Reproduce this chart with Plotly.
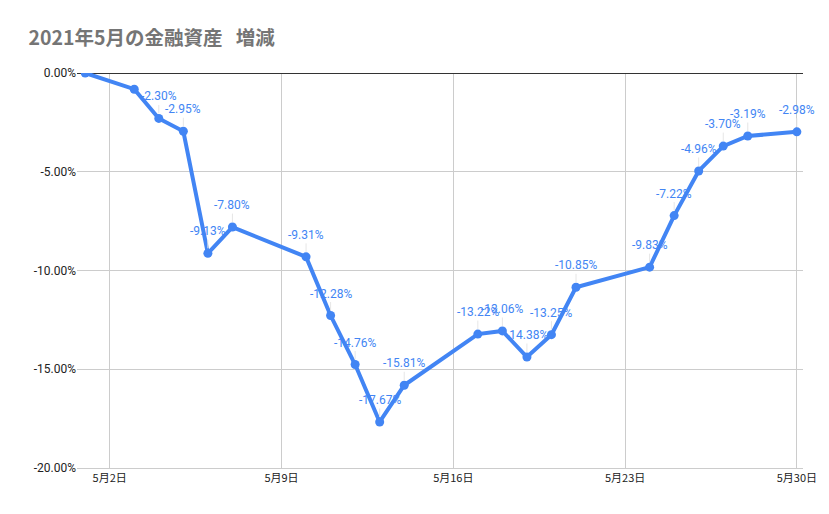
import plotly.graph_objects as go

# 2021年5月 金融資産 増減 (%)
dates = [
    "2021-05-01", "2021-05-03", "2021-05-04", "2021-05-05", "2021-05-06",
    "2021-05-07", "2021-05-10", "2021-05-11", "2021-05-12", "2021-05-13",
    "2021-05-14", "2021-05-17", "2021-05-18", "2021-05-19", "2021-05-20",
    "2021-05-21", "2021-05-24", "2021-05-25", "2021-05-26", "2021-05-27",
    "2021-05-28", "2021-05-30",
]
values = [
    0.00, -0.82, -2.30, -2.95, -9.13,
    -7.80, -9.31, -12.28, -14.76, -17.67,
    -15.81, -13.22, -13.06, -14.38, -13.25,
    -10.85, -9.83, -7.22, -4.96, -3.70,
    -3.19, -2.98,
]
# 点ごとのラベル表示 (5/1, 5/3 は表示なし)
show_label = [False, False] + [True] * 20

x_tickvals = ["2021-05-02", "2021-05-09", "2021-05-16", "2021-05-23", "2021-05-30"]
x_ticktext = ["5月2日", "5月9日", "5月16日", "5月23日", "5月30日"]
y_tickvals = [0, -5, -10, -15, -20]
y_ticktext = ["0.00%", "-5.00%", "-10.00%", "-15.00%", "-20.00%"]

BLUE = "#4285F4"

fig = go.Figure(go.Scatter(
    x=dates, y=values, mode="lines+markers",
    line=dict(color=BLUE, width=4),
    marker=dict(color=BLUE, size=9),
    hovertemplate="%{x}<br>%{y:.2f}%<extra></extra>",
))

annotations = [
    dict(x=d, y=v, xref="x", yref="y", text=f"{v:.2f}%",
         showarrow=True, arrowhead=0, arrowwidth=1, arrowcolor="#e6e6e6",
         ax=0, ay=-22, standoff=5,
         font=dict(family="Roboto", size=12, color=BLUE))
    for d, v, s in zip(dates, values, show_label) if s
]

# ページ本体の余白 (8px) を差し引いたサイズ
fig.update_layout(
    width=821, height=506,
    paper_bgcolor="white", plot_bgcolor="white",
    margin=dict(l=69, r=26, t=65, b=46),
    showlegend=False,
    title=dict(
        text="<b>2021年5月の金融資産 \u00a0\u00a0増減</b>",
        font=dict(family="Noto Sans CJK JP", size=19.5, color="#757575"),
        xref="container", yref="container", x=0.025, y=1 - 30 / 506,
        xanchor="left", yanchor="middle",
    ),
    annotations=annotations,
    xaxis=dict(
        type="date", range=["2021-04-30 16:00", "2021-05-30 06:00"],
        tickvals=x_tickvals, ticktext=x_ticktext,
        showgrid=True, gridcolor="#cccccc", gridwidth=1,
        showline=True, linecolor="#cccccc", zeroline=False,
        tickfont=dict(family="Noto Sans CJK JP", size=11, color="#222222"),
        ticks="",
    ),
    yaxis=dict(
        range=[-20, 0],
        tickvals=y_tickvals, ticktext=y_ticktext,
        showgrid=True, gridcolor="#cccccc", gridwidth=1,
        zeroline=True, zerolinecolor="#333333", zerolinewidth=1,
        tickfont=dict(family="Roboto", size=12, color="#222222"),
        ticks="",
    ),
)

fig.write_html("out.html")
